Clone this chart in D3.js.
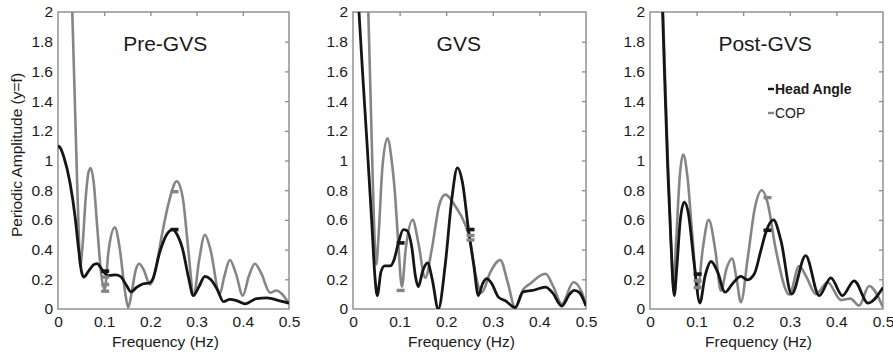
<!DOCTYPE html>
<html>
<head>
<meta charset="utf-8">
<script src="https://cdn.jsdelivr.net/npm/d3@7"></script>
<style>
  body { margin: 0; background: #fff; }
  svg text { font-family: "Liberation Sans", Arial, sans-serif; fill: #1a1a1a; }
</style>
</head>
<body>
<figure id="chart" style="margin:0"></figure>
<script>
// tick values
const freqTicks = [0, 0.1, 0.2, 0.3, 0.4, 0.5];
const ampTicks = [0, 0.2, 0.4, 0.6, 0.8, 1, 1.2, 1.4, 1.6, 1.8, 2];

const panelTitles = ["Pre-GVS", "GVS", "Post-GVS"];
const seriesNames = ["Head Angle", "COP"];

// [frequency (Hz), periodic amplitude]
const preHead = [[0, 1.10], [0.006, 1.08], [0.012, 1.03], [0.026, 0.85], [0.037, 0.62], [0.044, 0.42], [0.051, 0.25],
  [0.056, 0.215], [0.065, 0.25], [0.078, 0.30], [0.085, 0.305], [0.092, 0.28], [0.1, 0.245], [0.11, 0.225],
  [0.125, 0.23], [0.135, 0.22], [0.148, 0.16], [0.158, 0.115], [0.17, 0.145], [0.185, 0.17], [0.197, 0.175],
  [0.205, 0.2], [0.22, 0.38], [0.235, 0.50], [0.248, 0.535], [0.258, 0.50], [0.27, 0.40], [0.282, 0.22],
  [0.293, 0.09], [0.305, 0.15], [0.318, 0.22], [0.33, 0.20], [0.345, 0.13], [0.358, 0.05], [0.372, 0.065],
  [0.388, 0.055], [0.405, 0.035], [0.43, 0.07], [0.452, 0.075], [0.48, 0.055], [0.5, 0.04]];
const preCop = [[0.030, 2.1], [0.036, 1.45], [0.041, 0.9], [0.045, 0.5], [0.048, 0.29], [0.053, 0.42], [0.06, 0.75],
  [0.066, 0.92], [0.071, 0.95], [0.077, 0.86], [0.085, 0.55], [0.093, 0.25], [0.101, 0.13], [0.109, 0.38],
  [0.123, 0.55], [0.133, 0.42], [0.145, 0.12], [0.152, 0.01], [0.16, 0.12], [0.168, 0.26], [0.176, 0.305],
  [0.186, 0.26], [0.199, 0.165], [0.21, 0.25], [0.225, 0.5], [0.24, 0.72], [0.257, 0.86], [0.27, 0.75],
  [0.282, 0.4], [0.294, 0.09], [0.305, 0.32], [0.318, 0.5], [0.33, 0.4], [0.35, 0.1], [0.36, 0.22],
  [0.372, 0.33], [0.385, 0.24], [0.40, 0.09], [0.413, 0.22], [0.426, 0.305], [0.44, 0.24], [0.459, 0.11],
  [0.473, 0.125], [0.485, 0.1], [0.5, 0.035]];

const gvsHead = [[0.011, 2.1], [0.02, 1.62], [0.03, 1.12], [0.04, 0.6], [0.047, 0.22], [0.052, 0.09], [0.06, 0.25],
  [0.068, 0.29], [0.08, 0.29], [0.088, 0.33], [0.097, 0.44], [0.108, 0.535], [0.115, 0.53], [0.126, 0.42],
  [0.134, 0.22], [0.14, 0.15], [0.15, 0.26], [0.16, 0.31], [0.17, 0.2], [0.183, 0.0], [0.198, 0.3],
  [0.212, 0.74], [0.224, 0.95], [0.235, 0.85], [0.248, 0.53], [0.259, 0.3], [0.269, 0.09], [0.278, 0.17],
  [0.287, 0.205], [0.298, 0.17], [0.312, 0.08], [0.327, 0.056], [0.348, 0.01], [0.365, 0.115], [0.385, 0.125],
  [0.413, 0.147], [0.428, 0.11], [0.448, 0.02], [0.465, 0.1], [0.475, 0.125], [0.486, 0.11], [0.5, 0.02]];
const gvsCop = [[0.032, 2.1], [0.038, 1.4], [0.043, 0.8], [0.047, 0.42], [0.05, 0.3], [0.055, 0.5], [0.063, 0.95],
  [0.074, 1.15], [0.083, 1.0], [0.09, 0.78], [0.097, 0.45], [0.105, 0.15], [0.113, 0.4], [0.128, 0.6],
  [0.14, 0.45], [0.155, 0.21], [0.17, 0.42], [0.185, 0.7], [0.198, 0.77], [0.22, 0.69], [0.24, 0.575],
  [0.25, 0.48], [0.262, 0.25], [0.276, 0.11], [0.295, 0.25], [0.316, 0.33], [0.332, 0.18], [0.348, 0.01],
  [0.365, 0.13], [0.38, 0.17], [0.413, 0.237], [0.43, 0.15], [0.448, 0.034], [0.473, 0.18], [0.49, 0.12],
  [0.5, 0.03]];

const postHead = [[0.026, 2.1], [0.032, 1.5], [0.038, 0.95], [0.045, 0.45], [0.052, 0.09], [0.058, 0.3],
  [0.065, 0.6], [0.0735, 0.72], [0.082, 0.65], [0.095, 0.3], [0.107, 0.04], [0.118, 0.22], [0.131, 0.32],
  [0.145, 0.25], [0.161, 0.113], [0.177, 0.17], [0.195, 0.22], [0.209, 0.196], [0.224, 0.237], [0.238, 0.395],
  [0.249, 0.52], [0.265, 0.6], [0.281, 0.46], [0.304, 0.10], [0.334, 0.36], [0.363, 0.09], [0.388, 0.21],
  [0.413, 0.09], [0.438, 0.19], [0.468, 0.04], [0.5, 0.145]];
const postCop = [[0.027, 2.1], [0.033, 1.5], [0.039, 0.95], [0.045, 0.45], [0.05, 0.15], [0.056, 0.45],
  [0.064, 0.9], [0.0714, 1.04], [0.08, 0.9], [0.092, 0.45], [0.102, 0.12], [0.113, 0.4], [0.126, 0.6],
  [0.14, 0.4], [0.152, 0.124], [0.165, 0.28], [0.176, 0.34], [0.186, 0.2], [0.195, 0.045], [0.21, 0.35],
  [0.225, 0.68], [0.24, 0.80], [0.252, 0.72], [0.27, 0.4], [0.299, 0.097], [0.32, 0.29], [0.335, 0.22],
  [0.356, 0.10], [0.381, 0.18], [0.41, 0.06], [0.43, 0.07], [0.449, 0.023], [0.47, 0.155], [0.5, 0.01]];

// short dash markers at 0.1 and 0.25 Hz
const preHeadMarks = [[0.1, 0.255], [0.25, 0.535]];
const preCopMarks = [[0.1, 0.215], [0.1, 0.165], [0.1, 0.12], [0.25, 0.79]];
const gvsHeadMarks = [[0.1, 0.445], [0.25, 0.535]];
const gvsCopMarks = [[0.1, 0.125], [0.25, 0.495], [0.25, 0.465]];
const postHeadMarks = [[0.1, 0.235], [0.25, 0.53]];
const postCopMarks = [[0.1, 0.19], [0.1, 0.145], [0.25, 0.75]];

const width = 893, height = 356;
const plotTop = 12, plotBottom = 309;
const panelLeft = [58, 353, 650];
const panelWidth = [231, 233, 233];
const titleFreq = [0.232, 0.227, 0.247];
const headColor = "#151515", copColor = "#858585", frameColor = "#8a8a8a";

const panels = [
  { head: preHead, cop: preCop, headMarks: preHeadMarks, copMarks: preCopMarks },
  { head: gvsHead, cop: gvsCop, headMarks: gvsHeadMarks, copMarks: gvsCopMarks },
  { head: postHead, cop: postCop, headMarks: postHeadMarks, copMarks: postCopMarks }
];

const svg = d3.select("figure#chart")
  .append("svg")
  .attr("width", width)
  .attr("height", height);

panels.forEach((p, i) => {
  const x = d3.scaleLinear().domain([0, 0.5]).range([panelLeft[i], panelLeft[i] + panelWidth[i]]);
  const y = d3.scaleLinear().domain([0, 2]).range([plotBottom, plotTop]);
  const g = svg.append("g");

  g.append("clipPath").attr("id", "clip" + i)
    .append("rect")
    .attr("x", x(0)).attr("y", y(2))
    .attr("width", x(0.5) - x(0)).attr("height", y(0) - y(2));

  // tick labels (bottom / left)
  const bottom = g.append("g")
    .attr("transform", "translate(0," + plotBottom + ")")
    .call(d3.axisBottom(x).tickValues(freqTicks).tickSize(0).tickPadding(7).tickFormat(d3.format("")));
  const left = g.append("g")
    .attr("transform", "translate(" + x(0) + ",0)")
    .call(d3.axisLeft(y).tickValues(ampTicks).tickSize(0).tickPadding(5).tickFormat(d3.format("")));
  [bottom, left].forEach(a => {
    a.select(".domain").remove();
    a.selectAll("text").style("font-size", "15.5px").attr("fill", "#1a1a1a");
  });

  // inward ticks on top and right
  const topAx = g.append("g")
    .attr("transform", "translate(0," + plotTop + ")")
    .call(d3.axisBottom(x).tickValues(freqTicks.slice(1, -1)).tickSize(4).tickFormat(""));
  const rightAx = g.append("g")
    .attr("transform", "translate(" + x(0.5) + ",0)")
    .call(d3.axisLeft(y).tickValues(ampTicks.slice(1, -1)).tickSize(4).tickFormat(""));
  [topAx, rightAx].forEach(a => {
    a.select(".domain").remove();
    a.selectAll("line").attr("stroke", frameColor).attr("stroke-width", 1.3);
  });

  // frame
  g.append("rect")
    .attr("x", x(0)).attr("y", y(2))
    .attr("width", x(0.5) - x(0)).attr("height", y(0) - y(2))
    .attr("fill", "none")
    .attr("stroke", frameColor)
    .attr("stroke-width", 1.4);

  const line = d3.line()
    .x(d => x(d[0]))
    .y(d => y(d[1]))
    .curve(d3.curveMonotoneX);

  const lines = g.append("g").attr("clip-path", "url(#clip" + i + ")");
  lines.append("path")
    .attr("d", line(p.cop))
    .attr("fill", "none")
    .attr("stroke", copColor)
    .attr("stroke-width", 2.6);
  lines.append("path")
    .attr("d", line(p.head))
    .attr("fill", "none")
    .attr("stroke", headColor)
    .attr("stroke-width", 2.8);

  // dash markers
  g.selectAll(".cm")
    .data(p.copMarks)
    .enter()
    .append("rect")
    .attr("x", d => x(d[0]) - 3)
    .attr("y", d => y(d[1]) - 1.7)
    .attr("width", 8)
    .attr("height", 3.4)
    .attr("fill", copColor);
  g.selectAll(".hm")
    .data(p.headMarks)
    .enter()
    .append("rect")
    .attr("x", d => x(d[0]) - 3)
    .attr("y", d => y(d[1]) - 1.8)
    .attr("width", 8)
    .attr("height", 3.6)
    .attr("fill", headColor);

  g.append("text")
    .attr("x", x(titleFreq[i]))
    .attr("y", 51)
    .attr("text-anchor", "middle")
    .style("font-size", "21px")
    .text(panelTitles[i]);

  // legend in the last panel
  if (i === 2) {
    const legend = [
      { name: seriesNames[0], color: headColor, weight: "bold", yPos: 94 },
      { name: seriesNames[1], color: copColor, weight: "normal", yPos: 118 }
    ];
    legend.forEach(l => {
      g.append("line")
        .attr("x1", 768).attr("x2", 774)
        .attr("y1", l.yPos - 5).attr("y2", l.yPos - 5)
        .attr("stroke", l.color)
        .attr("stroke-width", 2.4);
      g.append("text")
        .attr("x", 775)
        .attr("y", l.yPos)
        .style("font-size", "14px")
        .style("font-weight", l.weight)
        .text(l.name);
    });
  }
});

// y axis title
svg.append("text")
  .attr("transform", "translate(21.5,155) rotate(-90)")
  .attr("text-anchor", "middle")
  .style("font-size", "15.5px")
  .text("Periodic Amplitude (y=f)");

// x axis titles
panels.forEach((p, i) => {
  svg.append("text")
    .attr("x", panelLeft[i] + panelWidth[i] / 2 - 8)
    .attr("y", 347)
    .attr("text-anchor", "middle")
    .style("font-size", "15.5px")
    .text("Frequency (Hz)");
});
</script>
</body>
</html>
